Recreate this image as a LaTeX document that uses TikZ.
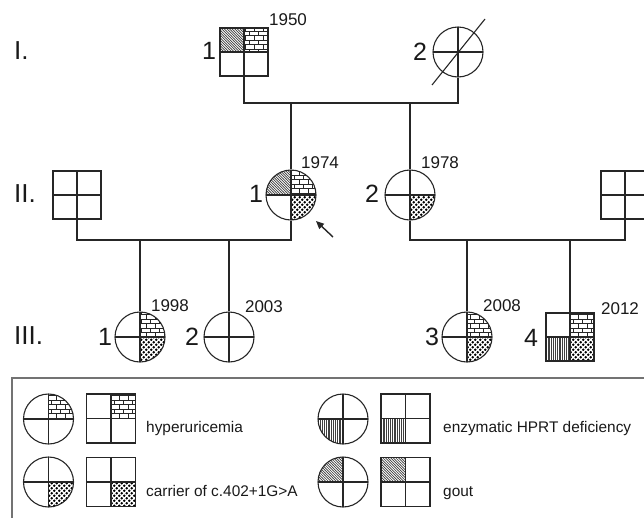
\documentclass[tikz,border=0pt]{standalone}
\usepackage{fontspec}
\setmainfont{Liberation Sans}
\usetikzlibrary{patterns,patterns.meta,arrows.meta}

\pgfdeclarepattern{
  name=pbricks,
  type=uncolored,
  bottom left={\pgfpoint{-0.5pt}{-0.5pt}},
  top right={\pgfpoint{9.5pt}{9.5pt}},
  tile size={\pgfpoint{9pt}{9pt}},
  code={
    \pgfsetlinewidth{0.7pt}
    \pgfpathmoveto{\pgfpoint{-0.5pt}{0pt}}\pgfpathlineto{\pgfpoint{9.5pt}{0pt}}
    \pgfpathmoveto{\pgfpoint{-0.5pt}{4.5pt}}\pgfpathlineto{\pgfpoint{9.5pt}{4.5pt}}
    \pgfpathmoveto{\pgfpoint{2pt}{0pt}}\pgfpathlineto{\pgfpoint{2pt}{4.5pt}}
    \pgfpathmoveto{\pgfpoint{6.5pt}{4.5pt}}\pgfpathlineto{\pgfpoint{6.5pt}{9pt}}
    \pgfusepath{stroke}
  }
}
\pgfdeclarepattern{
  name=pdots,
  type=uncolored,
  bottom left={\pgfpoint{0pt}{0pt}},
  top right={\pgfpoint{5.4pt}{5.4pt}},
  tile size={\pgfpoint{5.4pt}{5.4pt}},
  code={
    \pgfpathcircle{\pgfpoint{1.35pt}{1.35pt}}{1.45pt}
    \pgfpathcircle{\pgfpoint{4.05pt}{4.05pt}}{1.45pt}
    \pgfusepath{fill}
  }
}
\pgfdeclarepattern{
  name=pvert,
  type=uncolored,
  bottom left={\pgfpoint{0pt}{-1pt}},
  top right={\pgfpoint{2.2pt}{61pt}},
  tile size={\pgfpoint{2.2pt}{60pt}},
  code={
    \pgfsetlinewidth{1.2pt}
    \pgfpathmoveto{\pgfpoint{1.1pt}{-1pt}}\pgfpathlineto{\pgfpoint{1.1pt}{61pt}}
    \pgfusepath{stroke}
  }
}
\pgfdeclarepattern{
  name=pnw,
  type=uncolored,
  bottom left={\pgfpoint{-1pt}{-1pt}},
  top right={\pgfpoint{3.6pt}{3.6pt}},
  tile size={\pgfpoint{2.6pt}{2.6pt}},
  code={
    \pgfsetlinewidth{0.7pt}
    \pgfpathmoveto{\pgfpoint{-0.1pt}{2.7pt}}\pgfpathlineto{\pgfpoint{2.7pt}{-0.1pt}}
    \pgfusepath{stroke}
  }
}

\tikzset{
  ln/.style={line width=1.1pt, draw=black!85},
  xline/.style={line width=1.1pt, draw=black!85},
  G/.style={pattern=pnw, pattern color=black!75},
  B/.style={pattern=pbricks, pattern color=black!85},
  D/.style={pattern=pdots, pattern color=black},
  V/.style={pattern=pvert, pattern color=black!75},
  quads/.style n args={4}{path picture={
    \path[#1] (path picture bounding box.center) rectangle (path picture bounding box.north west);
    \path[#2] (path picture bounding box.center) rectangle (path picture bounding box.north east);
    \path[#3] (path picture bounding box.center) rectangle (path picture bounding box.south west);
    \path[#4] (path picture bounding box.center) rectangle (path picture bounding box.south east);
    \draw[xline] (path picture bounding box.north) -- (path picture bounding box.south)
                 (path picture bounding box.west) -- (path picture bounding box.east);
  }},
  male/.style={ln, draw, rectangle, minimum size=48pt, inner sep=0pt},
  female/.style={ln, draw, circle, minimum size=50pt, inner sep=0pt},
  num/.style={inner sep=0pt, font=\fontsize{25}{29}\selectfont, text=black!90},
  gen/.style={inner sep=0pt, anchor=west, font=\fontsize{26}{30}\selectfont, text=black!90},
  yr/.style={inner sep=0pt, font=\fontsize{17}{20}\selectfont, text=black!90},
  legtext/.style={inner sep=0pt, anchor=base west, font=\fontsize{15.4}{18}\selectfont, text=black!90},
  legbox/.style={line width=1.1pt, draw=black!55},
}

\begin{document}
\begin{tikzpicture}[x=1pt, y=-1pt]
\useasboundingbox (0,0) rectangle (644,517);
\clip (0,0) rectangle (644,517);

% generation labels
\node[gen] (gI) at (14,51) {I.};
\node[gen] (gII) at (14,194) {II.};
\node[gen] (gIII) at (14,336) {III.};

% Generation I
\node[male, quads={G}{B}{}{}] (I1) at (244,52) {};
\node[female, quads={}{}{}{}] (I2) at (458,52) {};
\node[num] (nI1) at (209,51) {1};
\node[yr] (yI1) at (288,20) {1950};
\node[num] (nI2) at (420,52) {2};
\coordinate (sA) at (432,85);
\coordinate (sB) at (485,19);
\draw[ln] (sA) -- (sB);
\coordinate (m1) at (350,103);
\draw[ln] (I1.south) |- (m1) -| (I2.south);

% Generation II
\node[male, quads={}{}{}{}] (II0) at (77,195) {};
\node[female, quads={G}{B}{}{D}] (II1) at (291,195) {};
\node[female, quads={}{}{}{D}] (II2) at (410,195) {};
\node[male, quads={}{}{}{}] (II3) at (625,195) {};
\node[num] (nII1) at (256,194) {1};
\node[yr] (yII1) at (320,163) {1974};
\node[num] (nII2) at (372,194) {2};
\node[yr] (yII2) at (440,163) {1978};
\draw[ln] (II1.north) -- (II1.north |- m1);
\draw[ln] (II2.north) -- (II2.north |- m1);
\coordinate (m2) at (180,240);
\coordinate (m3) at (520,240);
\draw[ln] (II0.south) |- (m2) -| (II1.south);
\draw[ln] (II2.south) |- (m3) -| (II3.south);
\coordinate (aT) at (333,237);
\coordinate (aH) at (316,221);
\draw[ln, line width=1.4pt, -{Triangle[length=8pt,width=7pt]}] (aT) -- (aH);

% Generation III
\node[female, quads={}{B}{}{D}] (III1) at (140,337) {};
\node[female, quads={}{}{}{}] (III2) at (229,337) {};
\node[female, quads={}{B}{}{D}] (III3) at (467,337) {};
\node[male, quads={}{B}{V}{D}] (III4) at (570,337) {};
\draw[ln] (III1.north) -- (III1.north |- m2);
\draw[ln] (III2.north) -- (III2.north |- m2);
\draw[ln] (III3.north) -- (III3.north |- m3);
\draw[ln] (III4.north) -- (III4.north |- m3);
\node[num] (nIII1) at (105,337) {1};
\node[yr] (yIII1) at (170,306) {1998};
\node[num] (nIII2) at (192,337) {2};
\node[yr] (yIII2) at (264,307) {2003};
\node[num] (nIII3) at (432,337) {3};
\node[yr] (yIII3) at (502,306) {2008};
\node[num] (nIII4) at (531,338) {4};
\node[yr] (yIII4) at (620,309) {2012};

% Legend
\draw[legbox] (12,378) rectangle (660,530);
\node[female, quads={}{B}{}{}] (L1c) at (48.5,419) {};
\node[male, minimum size=49pt, quads={}{B}{}{}] (L1s) at (111,418.5) {};
\node[legtext] (L1t) at (146,432) {hyperuricemia};
\node[female, quads={}{}{}{D}] (L2c) at (48.5,482) {};
\node[male, minimum size=49pt, quads={}{}{}{D}] (L2s) at (111,482) {};
\node[legtext] (L2t) at (146,496) {carrier of c.402+1G>A};
\node[female, quads={}{}{V}{}] (L3c) at (343,419) {};
\node[male, minimum size=49pt, quads={}{}{V}{}] (L3s) at (405.5,418.5) {};
\node[legtext] (L3t) at (443,432) {enzymatic HPRT deficiency};
\node[female, quads={G}{}{}{}] (L4c) at (343,482) {};
\node[male, minimum size=49pt, quads={G}{}{}{}] (L4s) at (405.5,482) {};
\node[legtext] (L4t) at (443,496) {gout};
\end{tikzpicture}
\end{document}
